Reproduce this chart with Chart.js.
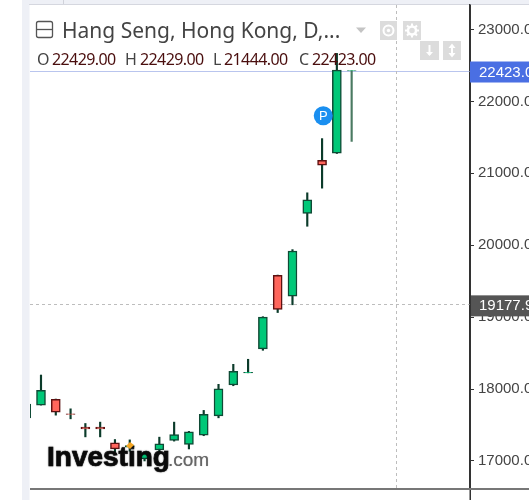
<!DOCTYPE html>
<html><head><meta charset="utf-8">
<script src="https://cdn.jsdelivr.net/npm/chart.js@4"></script>
<style>html,body{margin:0;padding:0;background:#fff;overflow:hidden}canvas{display:block}</style>
</head><body><canvas id="c" width="529" height="500"></canvas>
<script>
const titleText = "Hang Seng, Hong Kong, D,...";
const indexes = [0,1,2,3,4,5,6,7,8,9,10,11,12,13,14,15,16,17,18,19,20,21,22];
const opens  = [17600,17777,17856,17655,17470,17470,17251,17190,17030,17153,17284,17229,17358,17627,18056,18226,18558,19580,19293,20441,21180,21282,22429];
const highs  = [17800,18195,17861,17725,17521,17540,17298,17293,17120,17331,17540,17411,17703,18066,18344,18414,19006,19585,19939,20729,21483,22668,22429];
const lows   = [17600,17777,17637,17586,17335,17335,17121,17136,17000,17111,17276,17167,17351,17600,18046,18226,18539,19064,19172,20264,20794,21276,21444];
const closes = [17790,17982,17679,17648,17445,17445,17167,17215,17105,17237,17368,17405,17647,18004,18247,18231,19000,19106,19920,20632,21114,22435,22423];
const tickValues = [17000,18000,19000,20000,21000,22000,23000];
const lastPrice = 22423, crossPrice = 19177.9, crossIndex = 25.09, markerIndex = 20.08, markerPrice = 21800;
const ohlcLabels = ["O","H","L","C"];
const ohlcValues = ["22429.00","22429.00","21444.00","22423.00"];

const last = indexes.length - 1;
const isUp = indexes.map(i => i === last || closes[i] >= opens[i]);
const bodyFill = isUp.map(u => u ? '#00c878' : '#ff665c');
const bodyEdge = indexes.map(i => i === last ? '#4a7a62' : (isUp[i] ? '#0f4a35' : '#5c1010'));
const wickCol = indexes.map(i => i === last ? '#4a7a62' : '#0b3b2a');

function roundRect(ctx,x,y,w,h,r){ctx.beginPath();ctx.roundRect(x,y,w,h,r);}
function box(ctx,x,y,w,h){ctx.fillStyle='#dcdcdc';ctx.fillRect(x,y,w,h);}

const chrome = {
  id:'chrome',
  beforeDraw(ch){
    const c=ch.ctx;
    c.save();
    c.fillStyle='#fff';c.fillRect(0,0,529,500);
    c.fillStyle='#eef0f6';c.fillRect(22,0,7.5,500);
    c.fillStyle='#eef0f6';c.fillRect(22,0,507,4);
    c.fillStyle='#d5d7df';c.fillRect(29,4,500,1);
    c.fillStyle='#d0d2da';c.fillRect(63,0,1,4);
    c.restore();
  },
  beforeDatasetsDraw(ch){
    const c=ch.ctx,y=ch.scales.y,x=ch.scales.x,a=ch.chartArea;
    c.save();
    c.strokeStyle='#b9c5ee';c.lineWidth=1;
    const ly=Math.round(y.getPixelForValue(lastPrice))+.5;
    c.beginPath();c.moveTo(a.left,ly);c.lineTo(a.right,ly);c.stroke();
    c.strokeStyle='#bdbdbd';c.setLineDash([3,3]);
    const cy=Math.round(y.getPixelForValue(crossPrice))+.5;
    c.beginPath();c.moveTo(a.left,cy);c.lineTo(a.right,cy);c.stroke();
    const cx=Math.round(x.getPixelForValue(crossIndex))-.5;
    c.beginPath();c.moveTo(cx,a.top);c.lineTo(cx,a.bottom);c.stroke();
    c.restore();
  },
  afterDraw(ch){
    const c=ch.ctx,y=ch.scales.y,x=ch.scales.x;
    c.save();
    // axis extension and bottom rule
    c.fillStyle='#333';c.fillRect(469.5,5,1.5,495);
    c.fillStyle='#777';c.fillRect(30,488,499,2);
    // logo
    c.save();
    c.shadowColor='rgba(0,0,0,.45)';c.shadowBlur=1.5;
    c.fillStyle='#0b0b0b';c.strokeStyle='#0b0b0b';c.lineWidth=.7;c.font='bold 28px "Liberation Sans"';c.textBaseline='alphabetic';c.textAlign='left';
    c.fillText('Investing',47,466);c.strokeText('Investing',47,466);
    c.fillStyle='#666';c.font='19px "Liberation Sans"';c.shadowBlur=.8;
    c.fillText('.com',168,466);
    c.restore();
    c.fillStyle='#f5a623';c.beginPath();
    c.moveTo(130,442);c.lineTo(134,445);c.lineTo(130,449);c.lineTo(126,446);c.closePath();c.fill();
    // marker
    const mx=x.getPixelForValue(markerIndex),my=y.getPixelForValue(markerPrice);
    c.fillStyle='#1a8ff0';c.beginPath();c.arc(mx,my,9.5,0,Math.PI*2);c.fill();
    c.fillStyle='#fff';c.font='13px "Liberation Sans"';c.textAlign='center';c.textBaseline='middle';
    c.fillText('P',mx,my+.5);
    // title
    c.textAlign='left';c.textBaseline='alphabetic';
    c.strokeStyle='#555';c.lineWidth=1.3;
    roundRect(c,36.5,21.5,16,16,2);c.stroke();
    c.beginPath();c.moveTo(37,29.5);c.lineTo(52,29.5);c.stroke();
    c.fillStyle='#444';c.font='21px "Noto Sans"';
    c.fillText(titleText,62,38);
    c.fillStyle='#c4c4c4';c.beginPath();c.moveTo(356,27.5);c.lineTo(366,27.5);c.lineTo(361,33);c.closePath();c.fill();
    // icons
    box(c,380,21,17,19);box(c,403,21,18,19);box(c,420,41,19,19);box(c,443,41,18,19);
    c.strokeStyle='#fff';c.lineWidth=2;
    c.beginPath();c.arc(388.5,30.5,5,0,Math.PI*2);c.stroke();
    c.fillStyle='#fff';c.beginPath();c.arc(388.5,30.5,1.7,0,Math.PI*2);c.fill();
    c.beginPath();c.arc(412,30.5,4,0,Math.PI*2);c.lineWidth=2.5;c.stroke();
    for(let k=0;k<8;k++){const t=k*Math.PI/4;c.beginPath();c.moveTo(412+4*Math.cos(t),30.5+4*Math.sin(t));c.lineTo(412+7*Math.cos(t),30.5+7*Math.sin(t));c.lineWidth=2;c.stroke();}
    c.lineWidth=2;
    c.beginPath();c.moveTo(429.5,45);c.lineTo(429.5,55);c.stroke();
    c.beginPath();c.moveTo(426,52);c.lineTo(429.5,56);c.lineTo(433,52);c.fill();
    c.beginPath();c.moveTo(452,46);c.lineTo(452,55);c.stroke();
    c.beginPath();c.moveTo(448.5,48);c.lineTo(452,43.5);c.lineTo(455.5,48);c.fill();
    c.beginPath();c.moveTo(448.5,53);c.lineTo(452,57.5);c.lineTo(455.5,53);c.fill();
    // OHLC
    const lx=[37,125,213,299],vx=[52,140,224,312];
    c.font='16px "Noto Sans"';c.letterSpacing='-0.6px';
    ohlcLabels.forEach((l,i)=>{c.fillStyle='#444';c.fillText(l,lx[i],65);c.fillStyle='#4a0e0e';c.fillText(ohlcValues[i],vx[i],65);});
    c.letterSpacing='0px';
    // price tags
    c.font='15px "Liberation Sans"';c.textBaseline='middle';
    const ly=y.getPixelForValue(lastPrice);
    c.fillStyle='#4a6fe3';c.fillRect(470,ly-9.5,59,21);
    c.fillStyle='#fff';c.fillText(lastPrice.toFixed(2),479,ly+1.5);
    const cy=y.getPixelForValue(crossPrice);
    c.fillStyle='#555';c.fillRect(471,cy-9,58,21);
    c.fillStyle='#fff';c.fillText(crossPrice.toFixed(2),479,cy+1.5);
    c.restore();
  }
};

new Chart(document.getElementById('c').getContext('2d'),{
  type:'bar',
  data:{
    labels:indexes,
    datasets:[
      {label:'Range',data:indexes.map(i=>({x:i,y:[lows[i],highs[i]]})),backgroundColor:wickCol,borderWidth:0,barThickness:1.5,grouped:false,order:2},
      {label:'Body',data:indexes.map(i=>({x:i,y:[opens[i],closes[i]]})),backgroundColor:bodyFill,borderColor:bodyEdge,borderWidth:1.5,borderSkipped:false,barThickness:9,grouped:false,order:1}
    ]
  },
  options:{
    responsive:false,animation:false,
    layout:{padding:{left:30,top:5,bottom:11,right:0}},
    plugins:{legend:{display:false},tooltip:{enabled:false}},
    scales:{
      x:{type:'linear',display:false,min:0.257,max:30.0,offset:false},
      y:{type:'linear',position:'right',min:16610,max:23341,
        afterFit(s){s.width=59;s.paddingTop=0;s.paddingBottom=0;},
        afterBuildTicks(s){s.ticks=tickValues.map(v=>({value:v}));},
        border:{display:true,color:'#333',width:1.5},
        grid:{drawOnChartArea:false,drawTicks:true,tickLength:4,tickColor:'#333',tickWidth:1},
        ticks:{padding:4,autoSkip:false,color:'#444',font:{family:'"Liberation Sans"',size:15},callback:v=>v.toFixed(2)}
      }
    }
  },
  plugins:[chrome]
});
</script></body></html>
